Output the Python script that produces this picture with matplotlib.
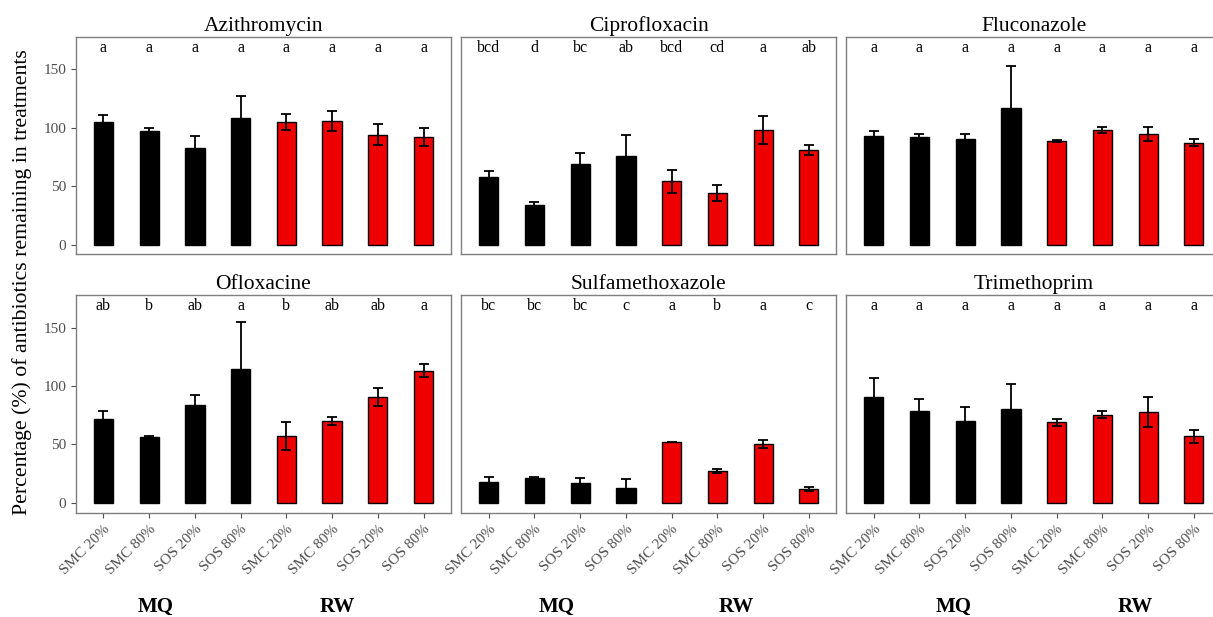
import matplotlib
matplotlib.use("Agg")
import matplotlib.pyplot as plt
import numpy as np

categories = ["SMC 20%", "SMC 80%", "SOS 20%", "SOS 80%",
              "SMC 20%", "SMC 80%", "SOS 20%", "SOS 80%"]
water = ["MQ", "MQ", "MQ", "MQ", "RW", "RW", "RW", "RW"]

titles = ["Azithromycin", "Ciprofloxacin", "Fluconazole",
          "Ofloxacine", "Sulfamethoxazole", "Trimethoprim"]

azithromycin_mean = [105, 97, 83, 108, 105, 106, 94, 92]
azithromycin_err = [6, 3, 10, 19, 7, 8.5, 9, 8]
azithromycin_letters = ["a", "a", "a", "a", "a", "a", "a", "a"]

ciprofloxacin_mean = [58, 34, 69, 76, 54, 44, 98, 81]
ciprofloxacin_err = [5, 2, 9, 18, 10, 7, 12, 4]
ciprofloxacin_letters = ["bcd", "d", "bc", "ab", "bcd", "cd", "a", "ab"]

fluconazole_mean = [93, 92, 90, 117, 88.5, 98, 95, 87]
fluconazole_err = [4, 2.3, 5, 36, 1, 2.5, 6, 3]
fluconazole_letters = ["a", "a", "a", "a", "a", "a", "a", "a"]

ofloxacine_mean = [72, 56, 84, 114.5, 57, 70, 90.5, 113]
ofloxacine_err = [6.5, 1, 8.5, 40.5, 12, 3.5, 8, 5.5]
ofloxacine_letters = ["ab", "b", "ab", "a", "b", "ab", "ab", "a"]

sulfamethoxazole_mean = [18, 21, 17, 12.5, 52, 27.5, 50, 12]
sulfamethoxazole_err = [4, 1, 4, 7.5, 0.3, 1.8, 3.4, 1.5]
sulfamethoxazole_letters = ["bc", "bc", "bc", "c", "a", "b", "a", "c"]

trimethoprim_mean = [91, 79, 70, 80, 69, 75.5, 78, 57]
trimethoprim_err = [16, 10, 12, 21.5, 3, 3, 13, 5.5]
trimethoprim_letters = ["a", "a", "a", "a", "a", "a", "a", "a"]

means = [azithromycin_mean, ciprofloxacin_mean, fluconazole_mean,
         ofloxacine_mean, sulfamethoxazole_mean, trimethoprim_mean]
errs = [azithromycin_err, ciprofloxacin_err, fluconazole_err,
        ofloxacine_err, sulfamethoxazole_err, trimethoprim_err]
letters = [azithromycin_letters, ciprofloxacin_letters, fluconazole_letters,
           ofloxacine_letters, sulfamethoxazole_letters, trimethoprim_letters]

yticks = [0, 50, 100, 150]
group_labels = ["MQ", "RW"]
water_colors = {"MQ": "#000000", "RW": "#EE0000"}

plt.rcParams["font.family"] = ["Liberation Serif", "DejaVu Serif"]

W, H = 1213, 617
fig = plt.figure(figsize=(W / 100, H / 100), dpi=100)

col_left = [76, 461.3, 846.3]
panel_w = 375
row_top = [36.7, 295]
panel_h = 217.5

grey_txt = "#4D4D4D"
frame_col = "#7F7F7F"

x = np.arange(1, 9)
for i in range(6):
    r, c = divmod(i, 3)
    left = col_left[c] / W
    bottom = 1 - (row_top[r] + panel_h) / H
    ax = fig.add_axes([left, bottom, panel_w / W, panel_h / H])
    cols = [water_colors[w] for w in water]
    ax.bar(x, means[i], width=0.42, color=cols, edgecolor="black",
           linewidth=1.0, zorder=2)
    ax.errorbar(x, means[i], yerr=errs[i], fmt="none", ecolor="black",
                elinewidth=1.3, capsize=3.8, capthick=1.3, zorder=3)
    for xi, lab in zip(x, letters[i]):
        ax.text(xi, 165, lab, ha="center", va="baseline", fontsize=11.5,
                color="black")
    ax.set_xlim(0.4, 8.6)
    ax.set_ylim(-8.3, 178)
    for sp in ax.spines.values():
        sp.set_color(frame_col)
        sp.set_linewidth(1.0)
    ax.set_title(titles[i], fontsize=15.5, pad=4)
    if c == 0:
        ax.set_yticks(yticks)
        ax.tick_params(axis="y", colors=grey_txt, labelsize=11,
                       length=3.5, width=0.8, labelcolor=grey_txt)
    else:
        ax.set_yticks([])
    if r == 1:
        ax.set_xticks(x)
        ax.set_xticklabels(categories, rotation=45, ha="right",
                           rotation_mode="anchor", fontsize=11,
                           color=grey_txt)
        ax.tick_params(axis="x", colors=grey_txt, length=3.5, width=0.8,
                       labelcolor=grey_txt)
    else:
        ax.set_xticks([])

fig.text(21.7 / W, 1 - 281.7 / H,
         "Percentage (%) of antibiotics remaining in treatments",
         rotation=90, ha="center", va="center", fontsize=15.7)

group_x = [156, 337.5, 556.7, 736.7, 953.8, 1135]
for k, gx in enumerate(group_x):
    fig.text(gx / W, 1 - 606.7 / H, group_labels[k % 2], ha="center",
             va="center", fontsize=15, fontweight="bold")

fig.savefig("out.png", dpi=100)
